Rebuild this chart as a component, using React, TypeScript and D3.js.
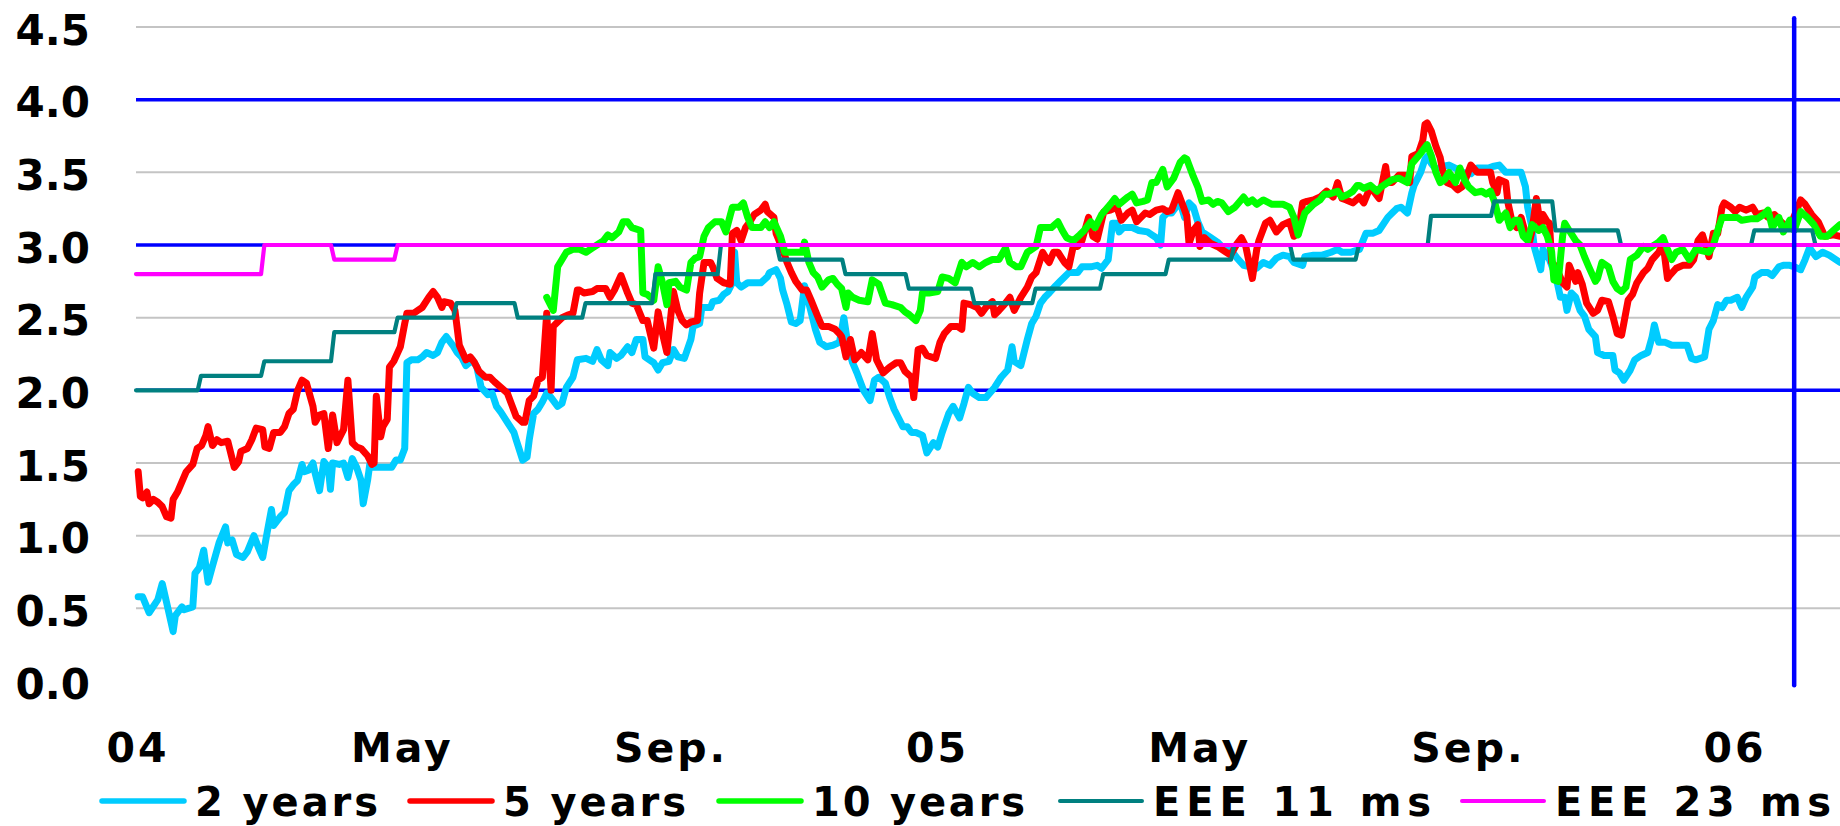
import React from "react";
import * as d3 from "d3";

// ---------- DATA ----------
// x values are days counted from 1 Jan 2004
const startDate = new Date(2004, 0, 1);
const endDate = new Date(2006, 0, 1);
const lastDay = 780;

const yTicks = [0, 0.5, 1, 1.5, 2, 2.5, 3, 3.5, 4, 4.5];
const gridValues = [0.5, 1, 1.5, 2.5, 3.5, 4.5];
const referenceLevels = [2, 3, 4];

const xTickDates = ["2004-01-01", "2004-05-01", "2004-09-01", "2005-01-01", "2005-05-01", "2005-09-01", "2006-01-01"];
const xTickLabels = ["04", "May", "Sep.", "05", "May", "Sep.", "06"];

const seriesNames = ["2 years", "5 years", "10 years", "EEE 11 ms", "EEE 23 ms"];

const twoYears: [number, number][] = [
  [1,0.58],[3,0.58],[6,0.47],[10,0.56],[12,0.67],[14,0.54],[17,0.34],[18,0.45],[21,0.51],[22,0.49],[26,0.51],[27,0.74],[29,0.78],[31,0.90],[33,0.68],[35,0.79],[38,0.95],[41,1.06],[42,0.95],[44,0.97],[46,0.87],[49,0.85],[51,0.89],[54,1.00],[56,0.92],[58,0.85],[60,1.02],[62,1.18],[63,1.07],[66,1.13],[68,1.16],[70,1.31],[72,1.35],[74,1.38],[76,1.49],[77,1.44],[79,1.45],[81,1.50],[82,1.43],[84,1.31],[86,1.51],[88,1.47],[89,1.32],[90,1.50],[93,1.49],[95,1.50],[97,1.40],[99,1.53],[101,1.47],[103,1.38],[104,1.22],[106,1.38],[107,1.49],[108,1.47],[113,1.47],[117,1.47],[119,1.52],[121,1.52],[123,1.60],[124,2.19],[126,2.21],[129,2.21],[131,2.23],[133,2.26],[136,2.24],[138,2.26],[140,2.33],[142,2.37],[145,2.31],[147,2.26],[149,2.23],[151,2.17],[154,2.21],[156,2.16],[158,2.02],[161,1.97],[163,1.98],[165,1.89],[167,1.85],[170,1.78],[173,1.71],[174,1.66],[177,1.52],[179,1.54],[180,1.66],[182,1.84],[184,1.87],[186,1.92],[188,1.98],[190,1.95],[193,1.89],[195,1.91],[197,2.02],[200,2.09],[202,2.21],[206,2.22],[209,2.20],[211,2.28],[213,2.21],[216,2.17],[217,2.26],[220,2.22],[222,2.24],[225,2.30],[227,2.26],[229,2.35],[232,2.35],[233,2.23],[235,2.21],[237,2.19],[239,2.14],[241,2.19],[244,2.20],[246,2.28],[248,2.23],[251,2.22],[254,2.35],[255,2.44],[258,2.46],[259,2.57],[263,2.57],[264,2.61],[267,2.62],[269,2.66],[271,2.68],[273,2.74],[274,2.95],[275,2.74],[277,2.71],[280,2.74],[286,2.74],[289,2.78],[290,2.81],[293,2.83],[295,2.77],[296,2.69],[298,2.59],[300,2.47],[302,2.46],[304,2.48],[306,2.72],[308,2.60],[311,2.42],[313,2.33],[316,2.30],[319,2.31],[322,2.33],[324,2.50],[326,2.30],[328,2.19],[330,2.12],[333,2.00],[336,1.93],[338,2.07],[340,2.09],[343,2.05],[345,1.95],[347,1.87],[351,1.75],[353,1.75],[355,1.71],[357,1.71],[360,1.69],[362,1.57],[365,1.64],[367,1.61],[369,1.71],[372,1.84],[374,1.89],[377,1.81],[379,1.91],[381,2.02],[383,1.98],[386,1.95],[389,1.95],[393,2.02],[396,2.09],[399,2.14],[401,2.30],[402,2.20],[405,2.17],[408,2.35],[410,2.46],[412,2.51],[414,2.60],[416,2.64],[418,2.67],[421,2.72],[423,2.75],[425,2.78],[427,2.81],[431,2.81],[433,2.85],[437,2.85],[440,2.86],[442,2.84],[445,2.90],[447,3.15],[449,3.15],[450,3.09],[452,3.12],[456,3.12],[459,3.10],[463,3.09],[465,3.07],[467,3.05],[469,3.00],[470,3.19],[472,3.22],[474,3.22],[476,3.26],[478,3.29],[480,3.19],[482,3.29],[484,3.26],[486,3.16],[488,3.09],[492,3.05],[495,3.02],[497,2.99],[501,2.97],[504,2.91],[507,2.86],[510,2.85],[513,2.84],[516,2.88],[519,2.86],[522,2.91],[525,2.93],[528,2.92],[530,2.88],[534,2.86],[535,2.92],[539,2.93],[543,2.93],[547,2.95],[550,2.97],[552,2.95],[556,2.95],[560,2.97],[563,3.08],[566,3.08],[569,3.10],[573,3.19],[575,3.22],[577,3.25],[579,3.26],[582,3.22],[584,3.36],[585,3.41],[588,3.50],[590,3.59],[591,3.61],[593,3.56],[595,3.52],[598,3.54],[601,3.55],[605,3.52],[607,3.50],[611,3.49],[614,3.53],[619,3.53],[621,3.54],[624,3.55],[627,3.50],[632,3.50],[634,3.50],[636,3.40],[637,3.26],[639,3.12],[640,2.99],[643,2.83],[644,2.97],[647,2.90],[650,2.78],[652,2.64],[654,2.64],[655,2.55],[657,2.67],[659,2.64],[661,2.55],[663,2.51],[665,2.42],[668,2.37],[669,2.26],[672,2.24],[676,2.24],[677,2.14],[679,2.12],[681,2.07],[684,2.14],[686,2.21],[689,2.24],[692,2.26],[694,2.37],[695,2.45],[697,2.33],[700,2.33],[703,2.31],[707,2.31],[710,2.31],[712,2.22],[714,2.21],[718,2.23],[720,2.42],[722,2.48],[724,2.59],[726,2.57],[728,2.62],[730,2.62],[733,2.64],[735,2.57],[737,2.64],[740,2.71],[741,2.78],[744,2.81],[747,2.81],[749,2.79],[752,2.85],[754,2.86],[757,2.86],[759,2.85],[762,2.83],[764,2.90],[766,2.98],[769,2.92],[772,2.95],[775,2.93],[780,2.88]
];

const fiveYears: [number, number][] = [
  [1,1.44],[2,1.27],[3,1.26],[5,1.30],[6,1.22],[8,1.25],[10,1.23],[12,1.20],[14,1.13],[16,1.12],[17,1.25],[19,1.30],[21,1.37],[23,1.44],[26,1.49],[28,1.60],[30,1.62],[32,1.69],[33,1.75],[35,1.62],[37,1.66],[39,1.64],[42,1.65],[43,1.59],[45,1.47],[47,1.51],[48,1.58],[51,1.60],[53,1.66],[55,1.74],[58,1.73],[59,1.61],[61,1.60],[63,1.71],[66,1.71],[68,1.75],[70,1.84],[72,1.87],[74,2.00],[76,2.07],[78,2.05],[81,1.89],[82,1.78],[84,1.83],[86,1.84],[88,1.60],[90,1.83],[92,1.64],[95,1.73],[97,2.07],[99,1.64],[101,1.61],[103,1.60],[106,1.55],[108,1.49],[109,1.50],[110,1.96],[112,1.68],[113,1.75],[115,1.80],[116,2.16],[118,2.20],[121,2.30],[123,2.46],[124,2.53],[127,2.53],[129,2.55],[131,2.57],[134,2.64],[136,2.68],[138,2.64],[140,2.57],[141,2.61],[144,2.60],[146,2.55],[148,2.31],[151,2.21],[153,2.23],[155,2.19],[157,2.13],[160,2.09],[162,2.09],[164,2.06],[167,2.02],[170,1.98],[172,1.90],[174,1.82],[177,1.78],[178,1.78],[180,1.93],[182,1.96],[184,2.07],[186,2.09],[188,2.53],[190,2.00],[191,2.44],[193,2.47],[195,2.50],[198,2.52],[200,2.53],[202,2.69],[203,2.69],[205,2.67],[209,2.68],[211,2.70],[215,2.70],[217,2.64],[219,2.69],[222,2.79],[225,2.67],[227,2.60],[229,2.59],[232,2.48],[234,2.48],[237,2.29],[239,2.54],[241,2.39],[243,2.26],[246,2.68],[248,2.55],[250,2.48],[252,2.45],[254,2.47],[257,2.48],[258,2.67],[260,2.88],[263,2.88],[264,2.85],[266,2.77],[269,2.74],[272,2.73],[273,3.08],[275,3.10],[277,3.03],[279,3.12],[281,3.16],[283,3.21],[286,3.24],[288,3.28],[289,3.23],[292,3.19],[293,3.08],[296,2.97],[298,2.88],[300,2.81],[302,2.75],[305,2.69],[307,2.69],[309,2.62],[312,2.51],[314,2.44],[317,2.44],[320,2.42],[322,2.39],[323,2.37],[325,2.23],[327,2.35],[329,2.21],[332,2.26],[335,2.21],[337,2.39],[339,2.21],[342,2.12],[345,2.16],[348,2.19],[350,2.19],[352,2.13],[355,2.09],[356,1.95],[358,2.28],[360,2.29],[362,2.24],[366,2.22],[368,2.33],[370,2.39],[373,2.44],[376,2.44],[378,2.42],[379,2.60],[382,2.59],[385,2.57],[387,2.53],[389,2.57],[392,2.61],[393,2.52],[395,2.55],[398,2.60],[400,2.64],[402,2.55],[405,2.64],[408,2.71],[410,2.78],[412,2.81],[415,2.95],[417,2.90],[418,2.88],[420,2.95],[422,2.95],[425,2.88],[427,2.85],[429,2.99],[431,2.99],[433,3.03],[436,3.19],[438,3.06],[440,3.04],[443,3.23],[446,3.24],[449,3.26],[451,3.17],[454,3.22],[456,3.24],[458,3.16],[460,3.19],[462,3.22],[464,3.21],[467,3.24],[470,3.25],[472,3.23],[474,3.24],[477,3.36],[479,3.28],[481,3.20],[482,3.01],[484,3.10],[486,3.14],[487,2.99],[489,3.05],[492,3.01],[495,2.99],[497,2.97],[501,2.93],[504,3.01],[506,3.05],[508,2.99],[511,2.77],[513,2.97],[514,3.03],[517,3.15],[519,3.17],[522,3.09],[525,3.14],[528,3.16],[530,3.06],[532,3.08],[534,3.29],[536,3.30],[539,3.31],[542,3.33],[545,3.37],[548,3.33],[550,3.43],[552,3.32],[554,3.31],[557,3.29],[560,3.33],[562,3.29],[565,3.40],[567,3.36],[569,3.32],[572,3.54],[573,3.43],[575,3.43],[578,3.48],[581,3.48],[583,3.43],[584,3.61],[587,3.63],[589,3.72],[590,3.83],[591,3.84],[593,3.78],[595,3.68],[597,3.60],[598,3.52],[600,3.43],[603,3.41],[605,3.38],[607,3.40],[609,3.47],[611,3.55],[614,3.50],[616,3.50],[618,3.50],[620,3.50],[621,3.43],[623,3.36],[624,3.45],[627,3.43],[628,3.29],[630,3.15],[632,3.12],[634,3.19],[636,3.08],[638,3.03],[639,3.10],[641,3.32],[643,3.12],[644,3.21],[646,3.16],[647,3.15],[648,2.88],[650,2.85],[653,2.74],[655,2.71],[656,2.86],[659,2.75],[660,2.81],[662,2.73],[664,2.60],[667,2.53],[669,2.55],[671,2.62],[674,2.61],[676,2.51],[678,2.39],[680,2.38],[681,2.46],[683,2.62],[685,2.66],[687,2.74],[690,2.81],[692,2.84],[694,2.90],[697,2.95],[699,3.01],[701,2.77],[702,2.79],[705,2.84],[708,2.86],[711,2.86],[713,2.90],[715,3.03],[717,3.07],[720,2.92],[722,3.08],[724,3.08],[726,3.26],[727,3.29],[730,3.26],[732,3.23],[734,3.26],[737,3.24],[740,3.26],[742,3.21],[745,3.22],[747,3.19],[750,3.21],[753,3.16],[756,3.12],[758,3.16],[762,3.31],[764,3.28],[767,3.21],[770,3.16],[773,3.06],[777,3.07],[780,3.06]
];

const tenYears: [number, number][] = [
  [188,2.64],[191,2.55],[193,2.85],[195,2.90],[197,2.95],[200,2.97],[203,2.97],[206,2.95],[209,2.98],[211,3.00],[214,3.03],[216,3.07],[218,3.05],[221,3.09],[223,3.16],[225,3.16],[227,3.12],[231,3.10],[232,2.67],[234,2.66],[237,2.62],[239,2.85],[241,2.74],[243,2.59],[244,2.74],[247,2.75],[249,2.71],[252,2.69],[254,2.88],[256,2.91],[258,2.92],[260,3.06],[262,3.12],[265,3.16],[268,3.16],[270,3.09],[273,3.26],[276,3.26],[278,3.29],[280,3.19],[282,3.12],[286,3.12],[288,3.16],[290,3.12],[292,3.16],[295,3.06],[297,2.95],[299,2.95],[302,2.95],[305,2.95],[306,3.02],[308,2.88],[310,2.81],[312,2.78],[314,2.71],[317,2.76],[319,2.77],[321,2.73],[323,2.70],[325,2.57],[326,2.67],[328,2.64],[331,2.62],[335,2.61],[337,2.76],[340,2.73],[343,2.60],[346,2.59],[350,2.57],[352,2.54],[354,2.52],[357,2.48],[359,2.55],[360,2.67],[363,2.67],[367,2.68],[369,2.78],[372,2.77],[375,2.74],[378,2.88],[380,2.85],[383,2.88],[386,2.85],[389,2.88],[392,2.90],[395,2.90],[398,2.98],[400,2.88],[403,2.85],[405,2.85],[408,2.95],[410,2.97],[412,2.99],[414,3.12],[417,3.12],[419,3.12],[422,3.16],[424,3.10],[426,3.05],[429,3.03],[432,3.07],[434,3.10],[437,3.16],[439,3.12],[442,3.21],[446,3.28],[448,3.32],[450,3.28],[454,3.33],[456,3.35],[458,3.29],[461,3.30],[463,3.31],[465,3.43],[467,3.43],[470,3.52],[472,3.40],[475,3.46],[478,3.57],[480,3.60],[481,3.59],[484,3.47],[486,3.40],[488,3.30],[491,3.31],[493,3.28],[495,3.30],[497,3.29],[500,3.23],[503,3.26],[507,3.33],[509,3.29],[511,3.31],[513,3.28],[516,3.31],[520,3.28],[525,3.28],[528,3.26],[530,3.19],[532,3.07],[535,3.22],[539,3.28],[542,3.31],[544,3.35],[546,3.35],[550,3.37],[552,3.33],[555,3.35],[557,3.37],[559,3.41],[560,3.41],[562,3.39],[565,3.41],[568,3.37],[570,3.40],[573,3.43],[575,3.45],[578,3.46],[582,3.43],[584,3.56],[588,3.63],[591,3.69],[593,3.61],[595,3.50],[597,3.43],[599,3.45],[601,3.50],[604,3.43],[606,3.53],[608,3.45],[610,3.40],[613,3.36],[616,3.37],[618,3.35],[620,3.37],[622,3.29],[624,3.17],[627,3.22],[629,3.12],[631,3.17],[633,3.17],[635,3.06],[637,3.03],[639,3.14],[642,3.10],[644,3.12],[646,3.06],[648,2.95],[649,2.76],[651,2.75],[653,3.06],[654,3.15],[656,3.10],[659,3.03],[661,3.00],[663,2.92],[665,2.85],[668,2.75],[669,2.77],[671,2.88],[674,2.85],[676,2.75],[678,2.70],[680,2.68],[682,2.71],[684,2.90],[687,2.93],[690,2.99],[692,2.97],[694,2.99],[697,3.02],[699,3.05],[701,2.97],[703,2.90],[705,2.95],[708,2.97],[711,2.90],[714,2.97],[717,2.96],[720,2.95],[722,3.00],[724,3.10],[726,3.19],[730,3.19],[733,3.19],[735,3.17],[739,3.18],[742,3.18],[745,3.21],[747,3.24],[749,3.12],[752,3.19],[754,3.09],[757,3.17],[759,3.10],[762,3.23],[765,3.19],[768,3.14],[771,3.06],[774,3.06],[777,3.10],[780,3.14]
];

// step series: [start day, level]
const eee11Levels: [number, number][] = [
  [0,2.0],[29,2.1],[58,2.2],[90,2.4],[119,2.5],[146,2.6],[174,2.5],[205,2.6],[237,2.8],[267,3.0],[294,2.9],[324,2.8],[353,2.7],[383,2.6],[411,2.7],[442,2.8],[472,2.9],[502,3.0],[529,2.9],[559,3.0],[592,3.2],[621,3.3],[649,3.1],[679,3.0],[740,3.1],[768,3.0]
];
const eee23Levels: [number, number][] = [[0,2.8],[58,3.0],[90,2.9],[119,3.0]];

const markerDay = 759;
const markerRange = [-0.03, 4.56];

// ---------- STYLE ----------
const colors = ["#00ccff", "#ff0000", "#00ff00", "#008080", "#ff00ff"];
const widths = [7, 7, 7, 4.2, 4.2];
const legendWidths = [5.5, 5.5, 5.5, 4, 4];
const FONT = "'DejaVu Sans', Verdana, sans-serif";

export default function App() {
  const W = 1840, H = 826;
  const x = d3.scaleTime().domain([startDate, endDate]).range([136, 1733]);
  const y = d3.scaleLinear().domain([0, 4.5]).range([681, 27]);
  const parse = d3.timeParse("%Y-%m-%d");
  const dayToDate = (d: number) => new Date(startDate.getTime() + d * 86400000);
  const px = (d: number) => x(dayToDate(d));

  const line = d3.line<[number, number]>()
    .x((p) => px(p[0]))
    .y((p) => y(p[1]))
    .curve(d3.curveLinear);

  const stepPoints = (levels: [number, number][]) => {
    const pts: [number, number][] = [];
    levels.forEach(([s, v], i) => {
      if (i === 0) pts.push([s, v]);
      else {
        pts.push([s - 0.75, levels[i - 1][1]]);
        pts.push([s + 0.75, v]);
      }
    });
    pts.push([lastDay, levels[levels.length - 1][1]]);
    return pts;
  };

  const series = [twoYears, fiveYears, tenYears, stepPoints(eee11Levels), stepPoints(eee23Levels)];
  const x0 = px(0);

  const legendX = [100, 408, 717, 1058, 1460];
  const legendTextLen = [183, 183, 213, 278, 276];
  const legendLineY = 801;
  const legendBaseline = 816;

  return (
    <svg width={W} height={H} viewBox={`0 0 ${W} ${H}`}
      style={{ position: "absolute", left: 0, top: 0, display: "block", background: "#ffffff" }}>
      <rect x={0} y={0} width={W} height={H} fill="#ffffff" />
      {/* grid */}
      {gridValues.map((v) => (
        <line key={"g" + v} x1={x0} x2={W} y1={y(v)} y2={y(v)} stroke="#c4c4c4" strokeWidth={2} />
      ))}
      {/* reference levels */}
      {referenceLevels.map((v) => (
        <line key={"r" + v} x1={x0} x2={W} y1={y(v)} y2={y(v)} stroke="#0000ff" strokeWidth={3.5} />
      ))}
      {/* y labels */}
      {yTicks.map((v) => (
        <text key={"yl" + v} x={90} y={y(v) + 17.5} textAnchor="end" fontFamily={FONT}
          fontWeight="bold" fontSize={42} fill="#000">{v.toFixed(1)}</text>
      ))}
      {/* x labels */}
      {xTickDates.map((d, i) => (
        <text key={"xl" + i} x={x(parse(d) as Date) + 2} y={762} textAnchor="middle" fontFamily={FONT}
          fontWeight="bold" fontSize={41} letterSpacing={3} fill="#000">{xTickLabels[i]}</text>
      ))}
      {/* series */}
      {series.map((s, i) => (
        <path key={"s" + i} d={line(s) || ""} fill="none" stroke={colors[i]} strokeWidth={widths[i]}
          strokeLinejoin="round" strokeLinecap="round" />
      ))}
      {/* vertical marker */}
      <line x1={px(markerDay)} x2={px(markerDay)} y1={y(markerRange[1])} y2={y(markerRange[0])}
        stroke="#0000ff" strokeWidth={4.5} strokeLinecap="round" />
      {/* legend */}
      {seriesNames.map((n, i) => (
        <g key={"lg" + i}>
          <line x1={legendX[i] + 2} x2={legendX[i] + 84} y1={legendLineY} y2={legendLineY} stroke={colors[i]}
            strokeWidth={legendWidths[i]} strokeLinecap="round" />
          <text x={legendX[i] + 95} y={legendBaseline} fontFamily={FONT} fontWeight="bold" fontSize={40}
            textLength={legendTextLen[i]} lengthAdjust="spacing" fill="#000">{n}</text>
        </g>
      ))}
    </svg>
  );
}
